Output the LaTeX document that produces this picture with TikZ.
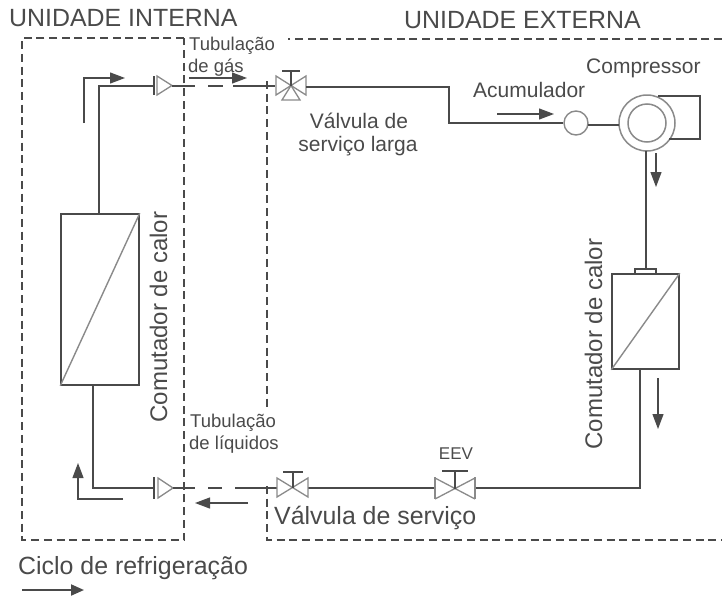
\documentclass[tikz,border=0pt]{standalone}
\usepackage{fontspec}
\setmainfont{Liberation Sans}
\usetikzlibrary{arrows.meta}
\definecolor{ink}{HTML}{4A4A4A}
\definecolor{valve}{HTML}{8A8A8A}
\tikzset{
  x=1pt,y=-1pt,
  pipe/.style={draw=ink,line width=1.4pt},
  border/.style={draw=ink,line width=1.3pt,dash pattern=on 8pt off 4.7pt},
  flow/.style={draw=ink,line width=1.2pt,-{Triangle[length=15pt,width=11pt]}},
  vlv/.style={draw=valve,line width=1.3pt},
  lbl/.style={inner sep=0pt,text=ink,font=\fontsize{#1}{#1}\selectfont},
  lbl/.default=21,
  hx/.style={draw=ink,line width=1.5pt,fill=white},
}
\begin{document}
\begin{tikzpicture}
\useasboundingbox (0,0) rectangle (722,597);
% borders
\coordinate (ia) at (22,38);
\coordinate (ib) at (184,38);
\coordinate (ic) at (184,540);
\coordinate (id) at (22,540);
\draw[border] (ib) -- (ia) -- (id) -- (ic) -- (ib);
\coordinate (ea) at (722,39);
\coordinate (eb) at (288,39);
\coordinate (ec) at (267,81);
\coordinate (ed) at (267,408);
\coordinate (ee) at (267,486);
\coordinate (ef) at (267,540);
\coordinate (eg) at (722,540);
\draw[border] (ea) -- (eb);
\draw[border] (ec) -- (ed);
\draw[border] (ee) -- (ef) -- (eg);
% nodes
\node[hx,minimum width=78pt,minimum height=171pt,inner sep=0pt] (hi) at (100,299.5) {};
\draw[draw=valve,line width=1.4pt] (hi.south west) -- (hi.north east);
\node[hx,minimum width=67pt,minimum height=95pt,inner sep=0pt] (he) at (645.5,321.5) {};
\draw[draw=valve,line width=1.4pt] (he.south west) -- (he.north east);
\node[draw=ink,line width=1.2pt,minimum width=21pt,minimum height=5pt,inner sep=0pt] (hc) at (645.5,271.5) {};
\node[circle,draw=valve,line width=1.4pt,fill=white,minimum size=24pt,inner sep=0pt] (acc) at (576,123) {};
\node[circle,draw=valve,line width=1.5pt,fill=white,minimum size=56pt,inner sep=0pt] (comp) at (647,123) {};
\node[circle,draw=valve,line width=1.5pt,minimum size=38pt,inner sep=0pt] at (647,123) {};
% check valves
\draw[vlv] (157,76) -- (172,85.5) -- (157,95) -- cycle;
\draw[pipe] (154,76) -- (154,95);
\draw[vlv] (158,478) -- (173,488) -- (158,498) -- cycle;
\draw[pipe] (154,477) -- (154,499);
% gas line
\draw[pipe] (99,214) -- (99,86) -- (154,86);
\draw[pipe] (172,86) -- (195,86);
\draw[pipe] (208,86) -- (223,86);
\draw[pipe] (233,86) -- (275,86);
% three way service valve
\draw[vlv] (276,76) -- (306,95) -- (306,76) -- (276,95) -- cycle;
\draw[vlv] (291,85.5) -- (282,100) -- (300,100) -- cycle;
\draw[ink,line width=1.3pt] (291,85.5) -- (291,71) (282,71) -- (300,71);
\draw[pipe] (306,87) -- (449,87) -- (449,123) -- (acc.west);
\draw[pipe] (588,125) -- (619,125);
\draw[pipe] (658,96) -- (700,96) -- (700,139) -- (669,139);
\draw[pipe] (646,151) -- (646,269);
% liquid line
\draw[pipe] (93,385) -- (93,488) -- (154,488);
\draw[pipe] (173,488) -- (195,488);
\draw[pipe] (208,488) -- (222,488);
\draw[pipe] (235,488) -- (277,488);
\draw[pipe] (308,488) -- (435,488);
\draw[pipe] (475,488) -- (640,488) -- (640,369);
% service valve
\draw[vlv] (277,478) -- (308,497) -- (308,478) -- (277,497) -- cycle;
\draw[ink,line width=1.3pt] (293,487.5) -- (293,472) (283,472) -- (303,472);
% EEV
\draw[vlv] (435,478) -- (475,499) (475,478) -- (435,499);
\draw[vlv] (435,477) -- (435,499) (475,477) -- (475,499);
\draw[ink,line width=1.3pt] (455,488.5) -- (455,471) (442,471) -- (468,471);
% flow arrows
\draw[flow] (84,123) -- (84,78) -- (125,78);
\draw[flow] (189,78) -- (247,78);
\draw[flow] (497,114) -- (554,114);
\draw[flow] (656,153) -- (656,187);
\draw[flow] (658,378) -- (658,429);
\draw[flow] (123,499) -- (78,499) -- (78,463);
\draw[flow] (248,503) -- (195,503);
\draw[draw=ink,line width=2pt,-{Triangle[length=13pt,width=11pt]}] (22,590) -- (84,590);
% labels
\node[lbl=24.9,anchor=base west] (t1) at (9,26) {UNIDADE INTERNA};
\node[lbl=24.9,anchor=base west] (t2) at (404,28) {UNIDADE EXTERNA};
\node[lbl=18.5,anchor=base west] (t3) at (189,50) {Tubulação};
\node[lbl=18.5,anchor=base west] (t4) at (188,72) {de gás};
\node[lbl=21,anchor=base] (t5) at (359,128) {Válvula de};
\node[lbl=21,anchor=base] (t6) at (358,151) {serviço larga};
\node[lbl=21,anchor=base west] (t7) at (473,97) {Acumulador};
\node[lbl=21,anchor=base west] (t8) at (586,73) {Compressor};
\node[lbl=24,anchor=base,rotate=90] (t9) at (167,317) {Comutador de calor};
\node[lbl=24,anchor=base,rotate=90] (t10) at (602,344) {Comutador de calor};
\node[lbl=18.5,anchor=base west] (t11) at (190,427) {Tubulação};
\node[lbl=18.5,anchor=base west] (t12) at (189,449) {de líquidos};
\node[lbl=17,anchor=base] (t13) at (456,459) {EEV};
\node[lbl=24.9,anchor=base west] (t14) at (274,524) {Válvula de serviço};
\node[lbl=24.9,anchor=base west] (t15) at (18,574) {Ciclo de refrigeração};
\end{tikzpicture}
\end{document}
